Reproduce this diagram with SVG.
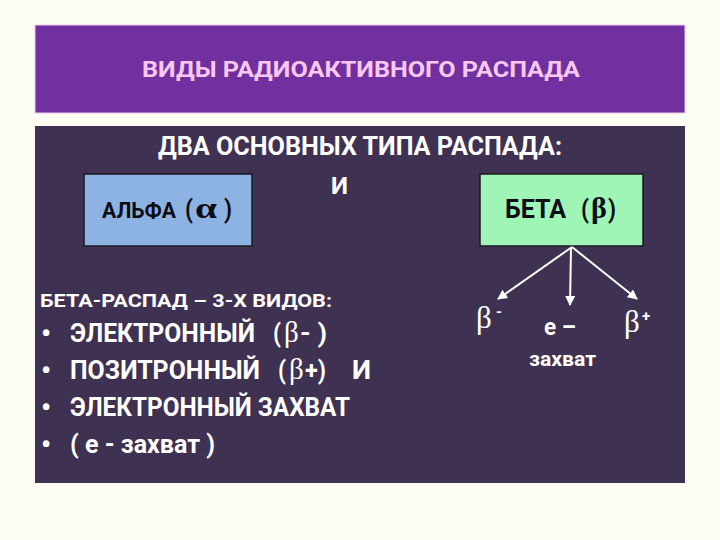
<svg xmlns="http://www.w3.org/2000/svg" width="720" height="540" viewBox="0 0 720 540">
<defs>
<style>
.t{font-family:Roboto,"Open Sans","Liberation Sans",sans-serif;font-weight:bold;white-space:pre;}
.g{font-family:"Liberation Serif","DejaVu Serif",serif;}
.w{fill:#ffffff;}
.k{fill:#0d0d14;}
.box{stroke:#1a1a22;stroke-width:1.5;}
.arr{stroke:#ffffff;stroke-width:2;fill:none;marker-end:url(#ah);}
</style>
<marker id="ah" viewBox="0 0 10 10" refX="9" refY="5" markerWidth="5" markerHeight="5" orient="auto" markerUnits="strokeWidth">
<path d="M0,0 L10,5 L0,10 z" fill="#ffffff"/>
</marker>
</defs>
<rect width="720" height="540" fill="#fdfdf6"/>
<g id="header">
<rect x="35" y="25" width="650" height="88" fill="#7030a0" stroke="#f0c8f0" stroke-width="1"/>
<text class="t" x="142" y="77" font-size="22" fill="#f8c8f2" textLength="438" lengthAdjust="spacingAndGlyphs">ВИДЫ РАДИОАКТИВНОГО РАСПАДА</text>
</g>
<g id="panel">
<rect x="35" y="126" width="650" height="357" fill="#3f3151"/>
<text class="t w" x="158" y="155" font-size="26" textLength="404" lengthAdjust="spacingAndGlyphs">ДВА ОСНОВНЫХ ТИПА РАСПАДА:</text>
<text class="t w" x="331" y="194" font-size="23" textLength="17" lengthAdjust="spacingAndGlyphs">И</text>
</g>
<g id="alpha">
<rect class="box" x="84" y="174" width="168" height="72" fill="#8db3e2"/>
<text class="t k" x="102" y="218" font-size="22" textLength="74" lengthAdjust="spacingAndGlyphs">АЛЬФА</text>
<text class="t k" x="185" y="218" font-size="25" textLength="8" lengthAdjust="spacingAndGlyphs">(</text>
<text class="g k" x="195" y="218" font-size="30" font-weight="bold" textLength="22" lengthAdjust="spacingAndGlyphs">α</text>
<text class="t k" x="224" y="218" font-size="25" textLength="8" lengthAdjust="spacingAndGlyphs">)</text>
</g>
<g id="beta">
<rect class="box" x="480" y="174" width="163" height="72" fill="#9ef5b6"/>
<text class="t k" x="505" y="218" font-size="25" textLength="61" lengthAdjust="spacingAndGlyphs">БЕТА</text>
<text class="t k" x="581" y="218" font-size="25" textLength="8" lengthAdjust="spacingAndGlyphs">(</text>
<text class="g k" x="591" y="218" font-size="30" font-weight="bold">β</text>
<text class="t k" x="608" y="218" font-size="25" textLength="8" lengthAdjust="spacingAndGlyphs">)</text>
</g>
<g id="connectors">
<line class="arr" x1="572" y1="247" x2="498" y2="299"/>
<line class="arr" x1="571" y1="247" x2="570" y2="305"/>
<line class="arr" x1="572" y1="247" x2="637" y2="299"/>
</g>
<g id="beta-minus">
<text class="g w" x="476" y="328" font-size="31">β</text>
<text class="t w" x="496" y="317" font-size="15">-</text>
</g>
<g id="e-capture">
<text class="t w" x="544" y="335" font-size="23" textLength="32" lengthAdjust="spacingAndGlyphs">е –</text>
<text class="t w" x="529" y="366" font-size="20" textLength="67" lengthAdjust="spacingAndGlyphs">захват</text>
</g>
<g id="beta-plus">
<text class="g w" x="624" y="332" font-size="31">β</text>
<text class="t w" x="642" y="321" font-size="15">+</text>
</g>
<g id="list">
<text class="t w" x="40" y="307" font-size="18" textLength="292" lengthAdjust="spacingAndGlyphs">БЕТА-РАСПАД – 3-Х ВИДОВ:</text>
<text class="t w" x="41" y="343" font-size="28">•</text>
<text class="t w" x="41" y="380" font-size="28">•</text>
<text class="t w" x="41" y="417" font-size="28">•</text>
<text class="t w" x="41" y="454" font-size="28">•</text>
<text class="t w" x="70" y="342" font-size="25" textLength="185" lengthAdjust="spacingAndGlyphs">ЭЛЕКТРОННЫЙ</text>
<text class="t w" x="273" y="342" font-size="25" textLength="8" lengthAdjust="spacingAndGlyphs">(</text>
<text class="g w" x="284" y="342" font-size="29">β</text>
<text class="t w" x="300" y="342" font-size="25" textLength="27" lengthAdjust="spacingAndGlyphs">- )</text>
<text class="t w" x="70" y="379" font-size="25" textLength="190" lengthAdjust="spacingAndGlyphs">ПОЗИТРОННЫЙ</text>
<text class="t w" x="278" y="379" font-size="25" textLength="8" lengthAdjust="spacingAndGlyphs">(</text>
<text class="g w" x="289" y="379" font-size="29">β</text>
<text class="t w" x="305" y="379" font-size="25" textLength="21" lengthAdjust="spacingAndGlyphs">+)</text>
<text class="t w" x="352" y="379" font-size="25" textLength="19" lengthAdjust="spacingAndGlyphs">И</text>
<text class="t w" x="70" y="416" font-size="25" textLength="280" lengthAdjust="spacingAndGlyphs">ЭЛЕКТРОННЫЙ ЗАХВАТ</text>
<text class="t w" x="70" y="453" font-size="25" textLength="145" lengthAdjust="spacingAndGlyphs">( е - захват )</text>
</g>
</svg>
